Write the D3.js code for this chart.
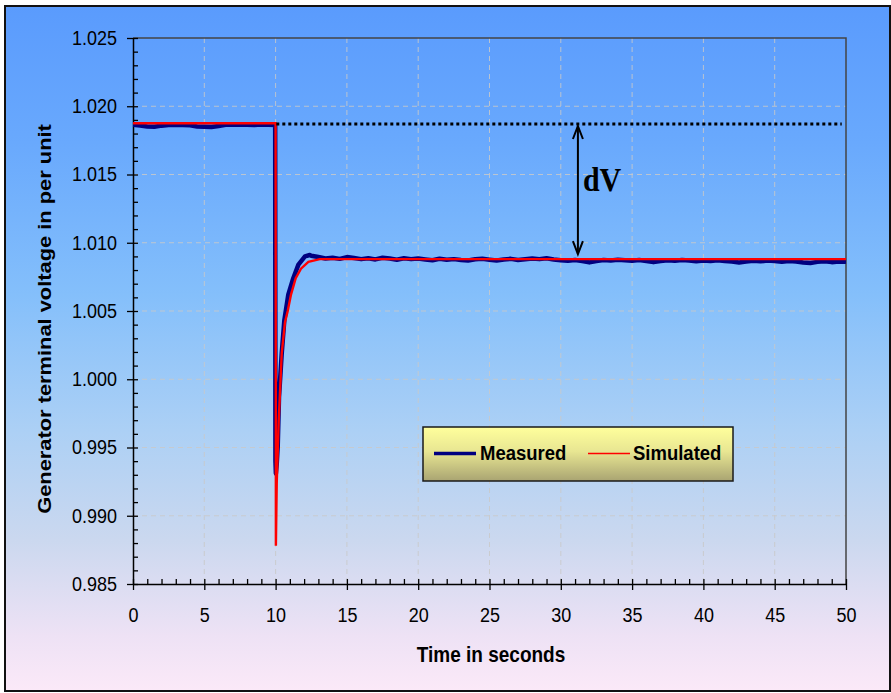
<!DOCTYPE html>
<html lang="en">
<head>
  <meta charset="UTF-8">
  <title>generator voltage</title>
  <script src="https://d3js.org/d3.v7.min.js"></script>
  <style>
    body { margin: 0; background: #fff; }
    text { font-family: "Liberation Sans", Arial, sans-serif; fill: #000; }
  </style>
</head>
<body>
  <svg id="chart" width="891" height="693"></svg>
  <script>
    // ---- data ----
    const xTicks = [0, 5, 10, 15, 20, 25, 30, 35, 40, 45, 50];
    const yTicks = [0.985, 0.990, 0.995, 1.000, 1.005, 1.010, 1.015, 1.020, 1.025];
    const seriesNames = ["Measured", "Simulated"];

    // measured terminal voltage [time s, voltage pu]
    const measured = [
      [0, 1.01865], [0.5, 1.01858], [1.0, 1.01852], [1.5, 1.01850], [2.0, 1.01858],
      [2.5, 1.01862], [3.0, 1.01864], [3.5, 1.01862], [4.0, 1.01860], [4.5, 1.01852],
      [5.0, 1.01850], [5.5, 1.01848], [6.0, 1.01856], [6.5, 1.01864], [7.0, 1.01866],
      [7.5, 1.01864], [8.0, 1.01865], [8.5, 1.01862], [9.0, 1.01866], [9.5, 1.01864],
      [9.97, 1.01862], [9.99, 0.9940], [10.02, 0.9931], [10.08, 0.9938], [10.15, 0.9951],
      [10.24, 0.9987], [10.43, 1.0019], [10.61, 1.0043], [10.89, 1.0062], [11.24, 1.0074],
      [11.6, 1.0084], [12.06, 1.0090], [12.4, 1.0091],
      [12.5, 1.00905], [13.0, 1.00895], [13.5, 1.00885], [14.0, 1.00890], [14.5, 1.00882],
      [15.0, 1.00895], [15.5, 1.00888], [16.0, 1.00880], [16.5, 1.00886], [17.0, 1.00878],
      [17.5, 1.00890], [18.0, 1.00884], [18.5, 1.00876], [19.0, 1.00887], [19.5, 1.00880],
      [20.0, 1.00885], [20.5, 1.00878], [21.0, 1.00872], [21.5, 1.00883], [22.0, 1.00876],
      [22.5, 1.00880], [23.0, 1.00874], [23.5, 1.00870], [24.0, 1.00879], [24.5, 1.00883],
      [25.0, 1.00876], [25.5, 1.00870], [26.0, 1.00878], [26.5, 1.00882], [27.0, 1.00874],
      [27.5, 1.00879], [28.0, 1.00884], [28.5, 1.00880], [29.0, 1.00886], [29.5, 1.00878],
      [30.0, 1.00872], [30.5, 1.00868], [31.0, 1.00874], [31.5, 1.00866], [32.0, 1.00856],
      [32.5, 1.00866], [33.0, 1.00874], [33.5, 1.00870], [34.0, 1.00876], [34.5, 1.00872],
      [35.0, 1.00868], [35.5, 1.00874], [36.0, 1.00866], [36.5, 1.00858], [37.0, 1.00866],
      [37.5, 1.00872], [38.0, 1.00868], [38.5, 1.00874], [39.0, 1.00870], [39.5, 1.00864],
      [40.0, 1.00870], [40.5, 1.00866], [41.0, 1.00872], [41.5, 1.00866], [42.0, 1.00862],
      [42.5, 1.00856], [43.0, 1.00862], [43.5, 1.00868], [44.0, 1.00864], [44.5, 1.00870],
      [45.0, 1.00866], [45.5, 1.00860], [46.0, 1.00866], [46.5, 1.00862], [47.0, 1.00856],
      [47.5, 1.00852], [48.0, 1.00860], [48.5, 1.00864], [49.0, 1.00858], [49.5, 1.00862],
      [50.0, 1.00860]
    ];

    // simulated terminal voltage [time s, voltage pu]
    const simulated = [
      [0, 1.01875], [10.0, 1.01875], [10.02, 0.9878], [10.08, 0.9924], [10.22, 0.9970],
      [10.43, 1.0019], [10.66, 1.0042], [10.85, 1.0050], [11.08, 1.0062], [11.41, 1.0074],
      [11.78, 1.0081], [12.3, 1.0086], [13.1, 1.0088], [50, 1.0088]
    ];

    // pre-disturbance level (dotted) and dV arrow
    const refLevel = [[10.05, 1.0187], [49.7, 1.0187]];
    const dVArrow = { t: 31.2, top: 1.0187, bottom: 1.0088, label: "dV" };

    // ---- layout ----
    const svg = d3.select("#chart");
    const plot = { left: 133, top: 38, right: 846, bottom: 584 };

    const x = d3.scaleLinear().domain([0, 50]).range([plot.left, plot.right]);
    const y = d3.scaleLinear().domain([0.985, 1.025]).range([plot.bottom, plot.top]);

    const defs = svg.append("defs");
    const bg = defs.append("linearGradient").attr("id", "bgGrad")
      .attr("x1", 0).attr("y1", 0).attr("x2", 0).attr("y2", 1);
    [["0%", "#5a9bfd"], ["20%", "#69a9fd"], ["42%", "#84bffb"], ["62%", "#acd0f5"],
     ["78%", "#cbd8ef"], ["92%", "#eee2f5"], ["100%", "#fbe9f8"]]
      .forEach(s => bg.append("stop").attr("offset", s[0]).attr("stop-color", s[1]));

    const lg = defs.append("linearGradient").attr("id", "legGrad")
      .attr("x1", 0).attr("y1", 0).attr("x2", 0).attr("y2", 1);
    [["0%", "#ffff9c"], ["45%", "#e8e692"], ["100%", "#a9a472"]]
      .forEach(s => lg.append("stop").attr("offset", s[0]).attr("stop-color", s[1]));

    defs.append("clipPath").attr("id", "plotClip")
      .append("rect").attr("x", plot.left).attr("y", plot.top - 2)
      .attr("width", plot.right - plot.left + 4).attr("height", plot.bottom - plot.top + 4);

    // chart background + outer frame
    svg.append("rect").attr("x", 5).attr("y", 6).attr("width", 885).attr("height", 685)
      .attr("fill", "url(#bgGrad)").attr("stroke", "#111").attr("stroke-width", 2);

    // grid
    const grid = svg.append("g");
    grid.selectAll("line.vg").data(xTicks.filter(d => d > 0 && d < 50)).join("line")
      .attr("x1", d => x(d)).attr("x2", d => x(d))
      .attr("y1", plot.top).attr("y2", plot.bottom)
      .attr("stroke", "#c9c9c9").attr("stroke-opacity", 0.85).attr("stroke-dasharray", "5,4");
    grid.selectAll("line.hg").data(yTicks.filter(d => d > 0.986 && d < 1.024)).join("line")
      .attr("x1", plot.left).attr("x2", plot.right)
      .attr("y1", d => y(d)).attr("y2", d => y(d))
      .attr("stroke", "#c9c9c9").attr("stroke-opacity", 0.85).attr("stroke-dasharray", "5,4");

    // top + right frame of plot
    svg.append("path")
      .attr("d", `M${plot.left},${plot.top}H${plot.right}V${plot.bottom}`)
      .attr("fill", "none").attr("stroke", "#444").attr("stroke-width", 1.5);

    // axes
    const yAxis = svg.append("g").attr("transform", `translate(${plot.left},0)`)
      .call(d3.axisLeft(y).tickValues(yTicks).tickFormat(d3.format(".3f"))
        .tickSizeInner(6).tickSizeOuter(0).tickPadding(10));
    svg.append("g").attr("transform", `translate(${plot.left},0)`)
      .call(d3.axisRight(y).tickValues(d3.range(0, 41).map(i => 0.985 + i * 0.001))
        .tickSize(5).tickFormat(""))
      .select(".domain").remove();

    const xAxis = svg.append("g").attr("transform", `translate(0,${plot.bottom})`)
      .call(d3.axisBottom(x).tickValues(xTicks).tickSizeInner(6).tickSizeOuter(0));
    svg.append("g").attr("transform", `translate(0,${plot.bottom})`)
      .call(d3.axisTop(x).tickValues(d3.range(0, 51)).tickSize(5).tickFormat(""))
      .select(".domain").remove();

    svg.selectAll(".tick line").attr("stroke", "#000").attr("stroke-width", 1.3);
    svg.selectAll(".domain").attr("stroke", "#000").attr("stroke-width", 1.5);

    yAxis.selectAll("text")
      .style("font-size", "18px").style("font-family", "Liberation Sans, Arial, sans-serif")
      .attr("transform", "scale(1,1.1)");
    xAxis.selectAll("text")
      .style("font-size", "18px").style("font-family", "Liberation Sans, Arial, sans-serif")
      .attr("y", 21.5).attr("transform", "scale(1,1.12)");

    // series
    const line = d3.line().x(d => x(d[0])).y(d => y(d[1]));
    const series = svg.append("g").attr("clip-path", "url(#plotClip)");

    series.append("path").datum(measured).attr("d", line)
      .attr("fill", "none").attr("stroke", "#000080").attr("stroke-width", 4.5)
      .attr("stroke-linejoin", "round");
    series.append("path").datum(simulated).attr("d", line)
      .attr("fill", "none").attr("stroke", "#ff0000").attr("stroke-width", 2.4)
      .attr("stroke-linejoin", "miter");

    // dotted reference level
    svg.append("path").datum(refLevel).attr("d", line)
      .attr("fill", "none").attr("stroke", "#000").attr("stroke-width", 3)
      .attr("stroke-dasharray", "3,3");

    // dV double arrow
    const ax = x(dVArrow.t), ay1 = y(dVArrow.top) + 2, ay2 = y(dVArrow.bottom) - 5;
    const arrow = svg.append("g").attr("fill", "none").attr("stroke", "#000").attr("stroke-width", 2);
    arrow.append("line").attr("x1", ax).attr("x2", ax).attr("y1", ay1).attr("y2", ay2);
    arrow.append("path").attr("d", `M${ax - 5},${ay1 + 13}L${ax},${ay1}L${ax + 5},${ay1 + 13}`);
    arrow.append("path").attr("d", `M${ax - 5},${ay2 - 13}L${ax},${ay2}L${ax + 5},${ay2 - 13}`);
    svg.append("g").attr("transform", `translate(${ax + 5},191) scale(1,1.1)`)
      .append("text").text(dVArrow.label)
      .style("font-family", "Liberation Serif, 'Times New Roman', serif")
      .style("font-weight", "bold").style("font-size", "30px");

    // axis titles
    svg.append("g").attr("transform", "translate(491,662) scale(1,1.15)")
      .append("text").attr("text-anchor", "middle")
      .style("font-weight", "bold").style("font-size", "19px")
      .text("Time in seconds");
    svg.append("g").attr("transform", "translate(51,319) scale(1,1.15) rotate(-90)")
      .append("text").attr("text-anchor", "middle")
      .style("font-weight", "bold").style("font-size", "19px")
      .text("Generator terminal voltage in per unit");

    // legend
    const leg = svg.append("g");
    leg.append("rect").attr("x", 423).attr("y", 427).attr("width", 310).attr("height", 54)
      .attr("fill", "url(#legGrad)").attr("stroke", "#1a1a1a").attr("stroke-width", 1.5);
    const legItems = [
      { name: seriesNames[0], color: "#000080", w: 3.5, lx: 434, tx: 480 },
      { name: seriesNames[1], color: "#ff0000", w: 1.6, lx: 588, tx: 633 }
    ];
    legItems.forEach(it => {
      leg.append("line").attr("x1", it.lx).attr("x2", it.lx + 42)
        .attr("y1", 453.5).attr("y2", 453.5)
        .attr("stroke", it.color).attr("stroke-width", it.w);
      leg.append("g").attr("transform", `translate(${it.tx},459.5) scale(1,1.08)`)
        .append("text").text(it.name)
        .style("font-weight", "bold").style("font-size", "18.5px");
    });
  </script>
</body>
</html>
